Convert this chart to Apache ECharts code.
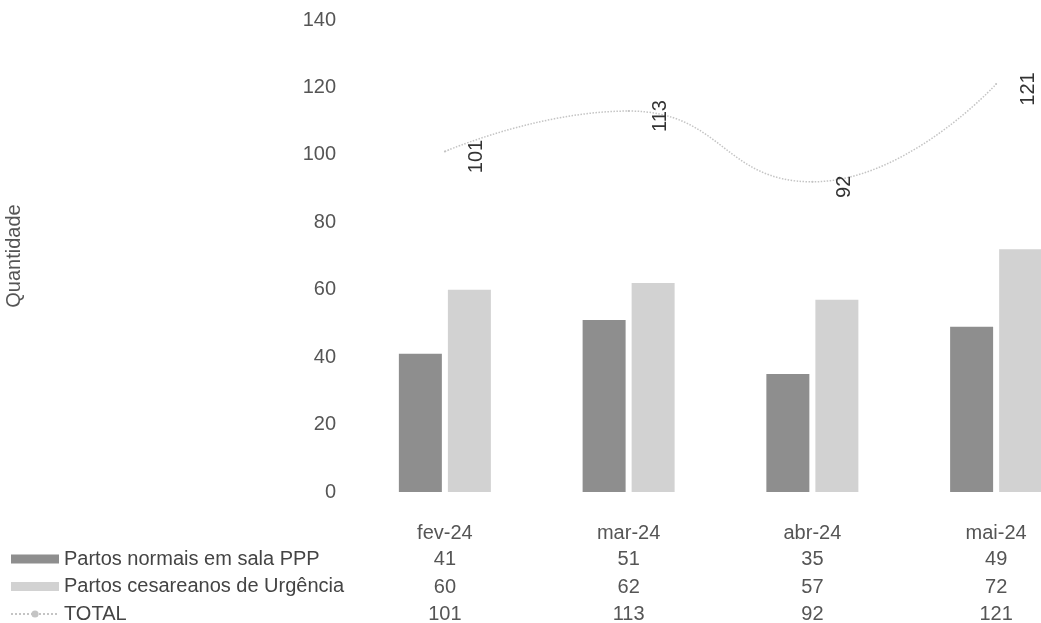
<!DOCTYPE html>
<html>
<head>
<meta charset="utf-8">
<script src="https://cdn.jsdelivr.net/npm/echarts@6/dist/echarts.min.js"></script>
<style>html,body{margin:0;padding:0;background:#fff;}#c{width:1041px;height:623px;}</style>
</head>
<body>
<div id="c"></div>
<script>
const categories = ['fev-24', 'mar-24', 'abr-24', 'mai-24'];
const normais = [41, 51, 35, 49];
const cesareanos = [60, 62, 57, 72];
const total = [101, 113, 92, 121];
const seriesNames = ['Partos normais em sala PPP', 'Partos cesareanos de Urgência', 'TOTAL'];
const yTicks = { min: 0, max: 140, interval: 20 };

const FONT = '"Liberation Sans", Arial, sans-serif';
const chart = echarts.init(document.getElementById('c'), null, { renderer: 'canvas' });
chart.setOption({
  animation: false,
  backgroundColor: '#ffffff',
  textStyle: { fontFamily: FONT },
  grid: { left: 353, top: 20, right: -47, bottom: 131, containLabel: false, outerBoundsMode: 'none' },
  legend: {
    orient: 'vertical', left: 10, top: 549, height: 80, padding: 0, itemWidth: 48, itemHeight: 9, itemGap: 7.5,
    textStyle: { fontFamily: FONT, fontSize: 20, color: '#444', lineHeight: 20 },
    data: [
      { name: seriesNames[0], icon: 'rect' },
      { name: seriesNames[1], icon: 'rect' },
      { name: seriesNames[2] }
    ]
  },
  xAxis: {
    type: 'category', data: categories,
    axisLine: { show: false }, axisTick: { show: false },
    axisLabel: {
      margin: 28, interval: 0,
      formatter: function (v, i) {
        return '{c|' + v + '}\n{v|' + normais[i] + '}\n{v|' + cesareanos[i] + '}\n{v|' + total[i] + '}';
      },
      rich: {
        c: { fontFamily: FONT, fontSize: 20, color: '#555', lineHeight: 26 },
        v: { fontFamily: FONT, fontSize: 20, color: '#555', lineHeight: 27.5 }
      }
    }
  },
  yAxis: {
    type: 'value', min: yTicks.min, max: yTicks.max, interval: yTicks.interval,
    name: 'Quantidade', nameLocation: 'middle', nameGap: 329,
    nameTextStyle: { fontFamily: FONT, fontSize: 20, color: '#555' },
    axisLine: { show: false }, axisTick: { show: false }, splitLine: { show: false },
    axisLabel: { margin: 17, fontFamily: FONT, fontSize: 20, color: '#555' }
  },
  series: [
    { name: seriesNames[0], type: 'bar', data: normais, barWidth: '23.4%', barGap: '14%',
      itemStyle: { color: '#8e8e8e' } },
    { name: seriesNames[1], type: 'bar', data: cesareanos, barWidth: '23.4%', barGap: '14%',
      itemStyle: { color: '#d2d2d2' } },
    { name: seriesNames[2], type: 'line', data: total, smooth: true,
      symbol: 'circle', symbolSize: 2, itemStyle: { color: '#c4c4c4' },
      lineStyle: { color: '#c4c4c4', width: 1.5, type: 'dotted' },
      label: { show: true, position: 'right', distance: 31, rotate: 90, align: 'center', verticalAlign: 'middle',
               offset: [-5, 0], fontFamily: FONT, fontSize: 20, color: '#333' } }
  ]
});
</script>
</body>
</html>
